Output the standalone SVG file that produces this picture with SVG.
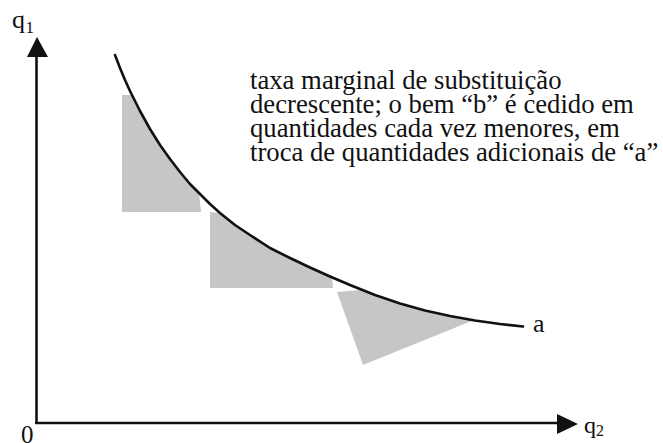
<svg xmlns="http://www.w3.org/2000/svg" width="663" height="443" viewBox="0 0 663 443">
<style>
  text { font-family: 'Liberation Serif', 'Times New Roman', serif; fill: #111; }
  .ax { stroke: #111; stroke-width: 2.6; fill: none; }
  .head { fill: #111; }
  .shade { fill: #c6c6c6; }
  .curve { stroke: #111; stroke-width: 2.6; fill: none; stroke-linejoin: round; stroke-linecap: round; }
</style>
<rect width="663" height="443" fill="#fff"/>
<g id="shading">
  <polygon class="shade" points="122,95 131,95 135,101 140,111 150,129 160,145 170,159 180,172 190,184 199,193 201,212 122,212"/>
  <polygon class="shade" points="210,212 220,213 235,225 250,235 270,248 290,258 310,267.5 332,277.5 333,288 210,288"/>
  <polygon class="shade" points="337,292 360,290 375,295 400,303.5 425,310.5 450,316 474,320 363,365"/>
</g>
<g id="axes">
  <line class="ax" x1="36.5" y1="423" x2="36.5" y2="52"/>
  <polygon class="head" points="37,37 27,57 48,57"/>
  <line class="ax" x1="35" y1="423" x2="562" y2="423"/>
  <polygon class="head" points="578,424 557,414 557,434"/>
</g>
<g id="curve-a">
  <path class="curve" d="M115,55 L120,68 L125,80 L130,91 L135,101 L140,111 L150,129 L160,145 L170,159 L180,172 L190,184 L200,194 L210,204 L220,213 L235,225 L250,235 L270,248 L290,258 L310,267.5 L330,276.5 L350,285 L375,295 L400,303.5 L425,310.5 L450,316 L475,320.5 L500,324 L523,326.5"/>
</g>
<g id="labels">
  <text font-family="Liberation Serif, serif" x="12" y="28" font-size="26">q</text>
  <text font-family="Liberation Serif, serif" x="25.5" y="33" font-size="17">1</text>
  <text font-family="Liberation Serif, serif" x="584" y="433" font-size="24">q</text>
  <text font-family="Liberation Serif, serif" x="596" y="436" font-size="16">2</text>
  <text font-family="Liberation Serif, serif" x="21" y="443" font-size="25">0</text>
  <text font-family="Liberation Serif, serif" x="533" y="332" font-size="26">a</text>
</g>
<g id="note" font-size="26.7">
  <text font-family="Liberation Serif, serif" x="250" y="89">taxa marginal de substituição</text>
  <text font-family="Liberation Serif, serif" x="250" y="113">decrescente; o bem “b” é cedido em</text>
  <text font-family="Liberation Serif, serif" x="250" y="137">quantidades cada vez menores, em</text>
  <text font-family="Liberation Serif, serif" x="250" y="161">troca de quantidades adicionais de “a”</text>
</g>
</svg>
